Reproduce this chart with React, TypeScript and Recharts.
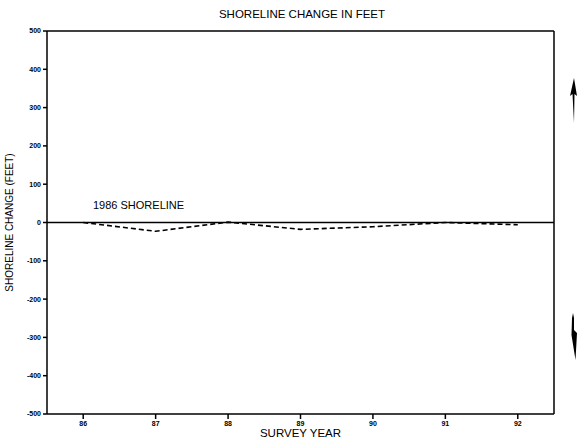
import React from 'react';
import { LineChart, Line, XAxis, YAxis, ReferenceLine } from 'recharts';

const years = [86, 87, 88, 89, 90, 91, 92];
const change = [0, -23, 1, -18, -11, 0, -6];
const yTicks = [-500, -400, -300, -200, -100, 0, 100, 200, 300, 400, 500];

const data = years.map((y, i) => ({ year: y, change: change[i] }));

const FONT = '"Liberation Sans", Arial, sans-serif';
const tickStyle = { fontSize: 7, fontWeight: 700, fill: '#000', fontFamily: FONT };

const ShorelineLabel = (props: any) => {
    const { viewBox } = props;
    return (
        <text x={viewBox.x + 46} y={viewBox.y - 14} fontSize={11} fontFamily={FONT} fill="#000">
            1986 SHORELINE
        </text>
    );
};

export default function App() {
    return (
        <div style={{ position: 'absolute', left: 0, top: 0, width: 578, height: 441, background: '#fff', opacity: 0.999 }}>
            <LineChart
                width={578}
                height={441}
                data={data}
                margin={{ top: 31, right: 0, bottom: 0, left: 17 }}
            >
                <text x={302} y={18} textAnchor="middle" fontSize={11.5} fontFamily={FONT} fill="#000">
                    SHORELINE CHANGE IN FEET
                </text>
                <XAxis
                    dataKey="year"
                    type="number"
                    domain={[85.5, 92.5]}
                    ticks={years}
                    height={27}
                    stroke="#000"
                    strokeWidth={1.5}
                    tickSize={5}
                    tick={tickStyle}
                    tickFormatter={(v: number) => String(v)}
                    label={{ value: 'SURVEY YEAR', position: 'insideBottom', offset: 4, fontSize: 11.5, fontFamily: FONT, fill: '#000' }}
                />
                <YAxis
                    yAxisId="left"
                    domain={[-500, 500]}
                    ticks={yTicks}
                    width={30}
                    stroke="#000"
                    strokeWidth={1.5}
                    tickSize={4}
                    tick={tickStyle}
                    interval={0}
                    label={{ value: 'SHORELINE CHANGE (FEET)', angle: -90, position: 'insideLeft', offset: -8, fontSize: 10, fontFamily: FONT, fill: '#000', style: { textAnchor: 'middle' } }}
                />
                <YAxis
                    yAxisId="right"
                    orientation="right"
                    domain={[-500, 500]}
                    ticks={yTicks}
                    width={24}
                    stroke="#000"
                    strokeWidth={1.5}
                    tickSize={3}
                    tick={{ ...tickStyle, textAnchor: 'start' }}
                    interval={0}
                />
                <ReferenceLine yAxisId="left" y={500} stroke="#000" strokeWidth={1.5} />
                <ReferenceLine yAxisId="left" y={0} stroke="#000" strokeWidth={1.5} label={<ShorelineLabel />} />
                <Line
                    yAxisId="left"
                    type="linear"
                    dataKey="change"
                    stroke="#000"
                    strokeWidth={1.6}
                    strokeDasharray="5 3"
                    dot={false}
                    isAnimationActive={false}
                />
            </LineChart>
            <svg width={578} height={441} style={{ position: 'absolute', left: 0, top: 0, pointerEvents: 'none' }}>
                <path d="M574 78 L577 96 L574.5 94 L574 123 L572.5 94 L570 96 Z" fill="#000" />
                <path d="M573 313 L574 318 L574 330 L577 333 L575.5 360 L571.5 335 L572 318 Z" fill="#000" />
            </svg>
        </div>
    );
}
